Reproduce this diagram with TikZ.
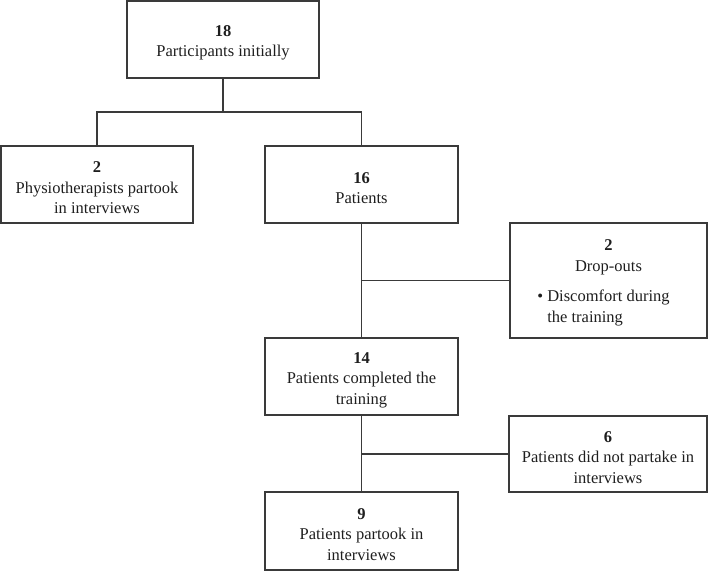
\documentclass[tikz,border=0pt]{standalone}
\usepackage{fontspec}
\setmainfont{Liberation Serif}
\definecolor{lc}{HTML}{3A3A3A}
\definecolor{tc}{HTML}{1E1E1E}
\newcommand{\hdnum}[1]{\rule{0pt}{18pt}\textbf{#1}}
\begin{document}
\begin{tikzpicture}[x=1pt,y=-1pt,
  box/.style={draw=lc, line width=1.1pt, align=center, inner sep=0pt, text=tc,
    font=\fontsize{16.5}{20.5}\selectfont},
  conn/.style={draw=lc, line width=1.1pt}]
\useasboundingbox (0,0) rectangle (708,571);
\node[box, minimum width=192pt, minimum height=77pt] (top) at (223,39.5)
  {\hdnum{18}\\Participants initially};
\node[box, minimum width=192pt, minimum height=77pt] (left) at (97,184.5)
  {\hdnum{2}\\Physiotherapists partook\\in interviews};
\node[box, minimum width=193pt, minimum height=77pt] (patients) at (361.5,184.5)
  {\hdnum{16}\\Patients};
\node[box, minimum width=197pt, minimum height=115pt] (drop) at (608.5,280.5)
  {\hdnum{2}\\Drop-outs\\[12pt]\begin{tabular}{@{}l@{}}\llap{•\ }Discomfort during\\the training\end{tabular}};
\node[box, minimum width=193pt, minimum height=77pt] (completed) at (361.5,376.5)
  {\hdnum{14}\\Patients completed the\\training};
\node[box, minimum width=198pt, minimum height=76pt] (six) at (608,454)
  {\hdnum{6}\\Patients did not partake in\\interviews};
\node[box, minimum width=193pt, minimum height=78pt] (nine) at (361.5,531)
  {\hdnum{9}\\Patients partook in\\interviews};
\coordinate (j1) at (223,112);
\draw[conn] (top.south) -- (j1);
\draw[conn] (left.north) |- (j1) -| (patients.north);
\draw[conn] (patients.south) -- (completed.north);
\draw[conn] (drop.west) -- (drop.west -| patients.south);
\draw[conn] (completed.south) -- (nine.north);
\draw[conn] (six.west) -- (six.west -| completed.south);
\end{tikzpicture}
\end{document}
